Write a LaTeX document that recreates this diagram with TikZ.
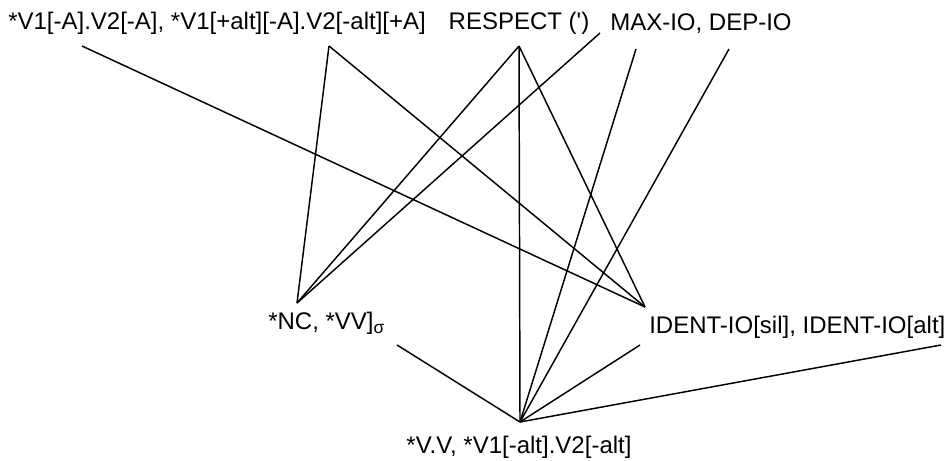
\documentclass[tikz,border=0pt]{standalone}
\usepackage{fontspec}
\setmainfont{Liberation Sans}
\usetikzlibrary{calc}

\begin{document}
\begin{tikzpicture}[x=0.75pt, y=-0.75pt,
  every node/.style={font=\fontsize{18}{21}\selectfont, inner sep=0pt},
  link/.style={line width=1.1pt, black}]
  \useasboundingbox (0,0) rectangle (948,460);

  % constraint labels
  \node[anchor=base west] (vowels) at (8,30) {*V1[-A].V2[-A], *V1[+alt][-A].V2[-alt][+A]};
  \node[anchor=base] (respect) at (519,30) {RESPECT (\textquotesingle)};
  \node[anchor=base west] (maxdep) at (610,31) {MAX-IO, DEP-IO};
  \node[anchor=base west] (nc) at (268,329) {*NC, *VV]\raisebox{-0.35ex}{\fontsize{13}{13}\selectfont σ}};
  \node[anchor=base west] (ident) at (649,333) {IDENT-IO[sil], IDENT-IO[alt]};
  \node[anchor=base] (vv) at (519,453) {*V.V, *V1[-alt].V2[-alt]};

  % attachment points
  \coordinate (vowelsA) at (82,46);
  \coordinate (vowelsB) at (329,46);
  \coordinate (respectS) at (519,46);
  \coordinate (maxW) at (600,33);
  \coordinate (maxS) at (636,49);
  \coordinate (depS) at (729,49);
  \coordinate (ncN) at (297,303);
  \coordinate (ncSE) at (397,345);
  \coordinate (identN) at (645,307);
  \coordinate (identSW) at (640,345);
  \coordinate (identSE) at (941,345);
  \coordinate (vvN) at (520,422);

  % rankings
  \draw[link] (vowelsA) -- (identN);
  \draw[link] (vowelsB) -- (ncN);
  \draw[link] (vowelsB) -- (identN);
  \draw[link] (respectS) -- (ncN);
  \draw[link] (respectS) -- (vvN);
  \draw[link] (respectS) -- (identN);
  \draw[link] (maxW) -- (ncN);
  \draw[link] (maxS) -- (vvN);
  \draw[link] (depS) -- (vvN);
  \draw[link] (ncSE) -- (vvN);
  \draw[link] (identSW) -- (vvN);
  \draw[link] (identSE) -- (vvN);
\end{tikzpicture}
\end{document}
